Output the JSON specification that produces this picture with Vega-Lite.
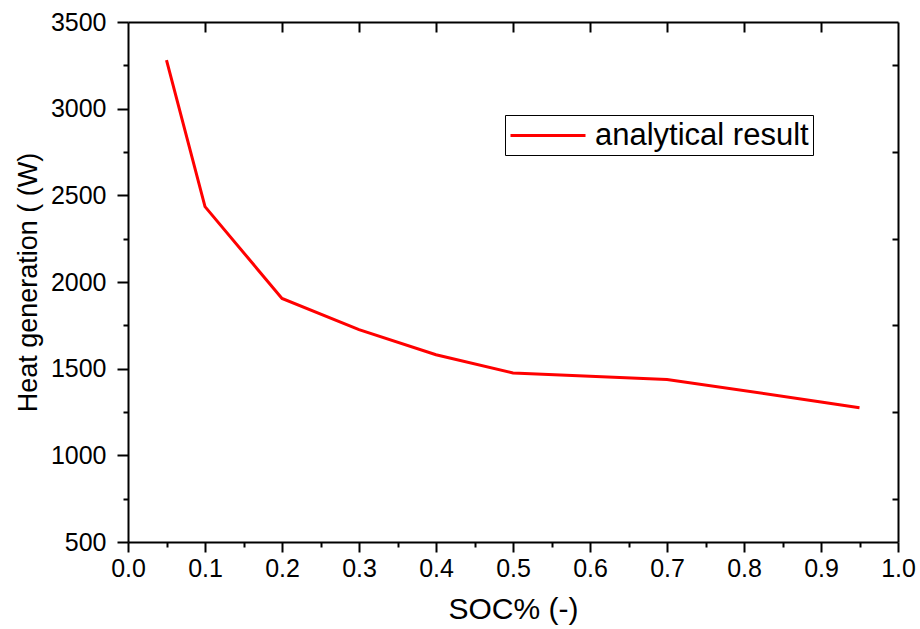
{
  "$schema": "https://vega.github.io/schema/vega-lite/v6.json",
  "width": 770,
  "height": 520,
  "autosize": "none",
  "padding": {"left": 128, "top": 22, "right": 22, "bottom": 87},
  "background": "white",
  "config": {
    "view": {"stroke": null},
    "font": "Liberation Sans",
    "axis": {
      "grid": false,
      "domainColor": "black",
      "domainWidth": 2,
      "tickColor": "black",
      "tickWidth": 2,
      "labelFont": "Liberation Sans",
      "labelColor": "black",
      "titleFont": "Liberation Sans",
      "titleColor": "black",
      "titleFontWeight": "normal"
    }
  },
  "data": {
    "values": [
      {"soc": 0.05, "heat": 3280, "series": "analytical result"},
      {"soc": 0.1, "heat": 2435, "series": "analytical result"},
      {"soc": 0.2, "heat": 1905, "series": "analytical result"},
      {"soc": 0.3, "heat": 1725, "series": "analytical result"},
      {"soc": 0.4, "heat": 1580, "series": "analytical result"},
      {"soc": 0.5, "heat": 1475, "series": "analytical result"},
      {"soc": 0.7, "heat": 1438, "series": "analytical result"},
      {"soc": 0.9, "heat": 1308, "series": "analytical result"},
      {"soc": 0.95, "heat": 1275, "series": "analytical result"}
    ]
  },
  "resolve": {"axis": {"x": "independent", "y": "independent"}},
  "layer": [
    {
      "mark": {"type": "line", "strokeOpacity": 0},
      "encoding": {
        "x": {"field": "soc", "type": "quantitative", "scale": {"domain": [0, 1], "nice": false, "zero": false},
          "axis": {"orient": "bottom", "values": [0.05, 0.15, 0.25, 0.35, 0.45, 0.55, 0.65, 0.75, 0.85, 0.95], "labels": false, "domain": false, "tickSize": 5, "title": null}},
        "y": {"field": "heat", "type": "quantitative", "scale": {"domain": [500, 3500], "nice": false, "zero": false},
          "axis": {"orient": "left", "values": [750, 1250, 1750, 2250, 2750, 3250], "labels": false, "domain": false, "tickSize": 5, "title": null}}
      }
    },
    {
      "mark": {"type": "line", "strokeOpacity": 0},
      "encoding": {
        "x": {"field": "soc", "type": "quantitative",
          "axis": {"orient": "top", "values": [0.1, 0.2, 0.3, 0.4, 0.5, 0.6, 0.7, 0.8, 0.9], "labels": false, "domain": true, "tickSize": -10, "title": null}},
        "y": {"field": "heat", "type": "quantitative",
          "axis": {"orient": "right", "values": [750, 1250, 1750, 2250, 2750, 3250], "labels": false, "domain": true, "tickSize": -6, "title": null}}
      }
    },
    {
      "mark": {"type": "line", "strokeWidth": 3},
      "encoding": {
        "x": {"field": "soc", "type": "quantitative",
          "axis": {"orient": "bottom", "values": [0, 0.1, 0.2, 0.3, 0.4, 0.5, 0.6, 0.7, 0.8, 0.9, 1.0], "format": ".1f",
            "tickSize": 10, "labelFontSize": 25, "labelBaseline": "alphabetic", "labelPadding": 24, "labelFlush": false,
            "title": "SOC% (-)", "titleFontSize": 30, "titleBaseline": "alphabetic", "titleX": 385, "titleY": 76, "titleAnchor": "middle"}},
        "y": {"field": "heat", "type": "quantitative",
          "axis": {"orient": "left", "values": [500, 1000, 1500, 2000, 2500, 3000, 3500], "format": "d",
            "tickSize": 11, "labelFontSize": 25, "labelPadding": 11, "labelBaseline": "middle", "labelFlush": false,
            "title": "Heat generation ( (W)", "titleFontSize": 27, "titleAngle": -90, "titleBaseline": "middle", "titleAlign": "center", "titleX": -100, "titleY": 260}},
        "color": {"field": "series", "type": "nominal", "scale": {"domain": ["analytical result"], "range": ["#ff0000"]},
          "legend": {"orient": "none", "legendX": 377, "legendY": 93, "title": null, "symbolType": "M-1,0H4", "symbolSize": 900,
            "symbolStrokeWidth": 3, "labelFontSize": 31, "labelFont": "Liberation Sans", "labelColor": "black", "labelOffset": 53,
            "strokeColor": "black", "padding": 4, "labelLimit": 400}}
      }
    }
  ]
}
